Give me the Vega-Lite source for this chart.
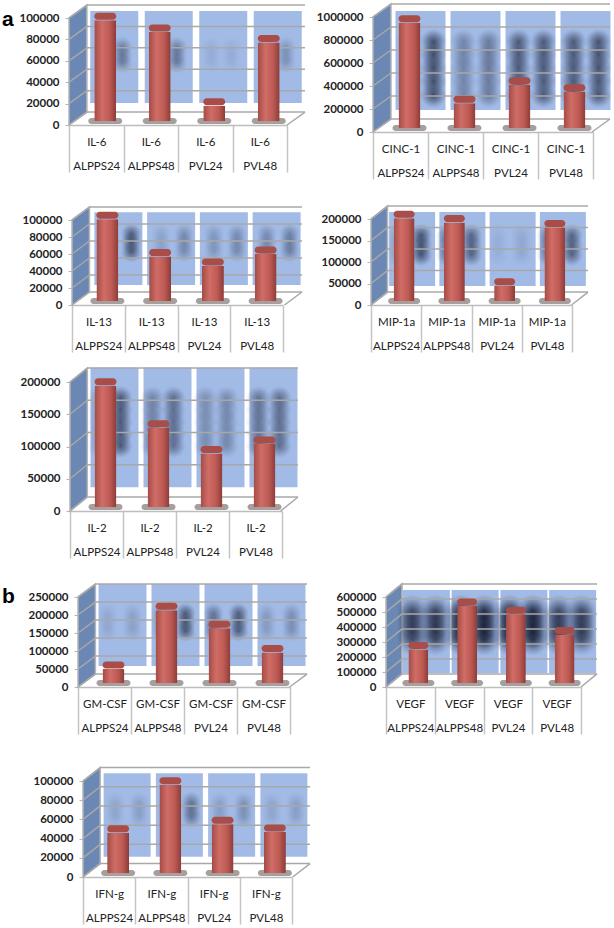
{"$schema":"https://vega.github.io/schema/vega-lite/v6.json","padding":0,"autosize":{"type":"pad"},"background":"white","spacing":0,"bounds":"flush","columns":2,
"config":{"view":{"stroke":null},
"axisX":{"labelAngle":0,"labelFont":"Lato","labelFontSize":11.5,"labelColor":"#222","labelLineHeight":24,"labelPadding":-36,"tickSize":47,"tickBand":"extent","tickColor":"#c4c4c4","tickWidth":1.5,"domainColor":"#bdbdbd","domainWidth":1.5,"labelOverlap":false,"labelBound":false,"labelFlush":false,"grid":false,"title":null},
"axisY":{"labelFont":"Lato","labelFontSize":11.5,"labelFontWeight":"bold","labelColor":"#222","tickSize":4,"tickColor":"#b5b5b5","labelPadding":6,"domain":false,"grid":false}},
"datasets":{
"p1":[{"label":"ALPPS24","value":98000,"l":0.1,"r":0.5,"pos":[73000,65500,58000]},{"label":"ALPPS48","value":87000,"l":0.05,"r":0.5,"pos":[73000,65500,58000]},{"label":"PVL24","value":18000,"l":0.1,"r":0.1,"pos":[73000,65500,58000]},{"label":"PVL48","value":77000,"l":0.2,"r":0.3,"pos":[73000,65500,58000]}],
"p2":[{"label":"ALPPS24","value":950000,"l":0.3,"r":1,"pos":[783000,670000,557000,440000,322000]},{"label":"ALPPS48","value":250000,"l":0.5,"r":0.6,"pos":[783000,670000,557000,440000,322000]},{"label":"PVL24","value":410000,"l":0.9,"r":0.9,"pos":[783000,670000,557000,440000,322000]},{"label":"PVL48","value":350000,"l":0.9,"r":0.95,"pos":[783000,670000,557000,440000,322000]}],
"p3":[{"label":"ALPPS24","value":101000,"l":0.2,"r":0.85,"pos":[83600,73000,62400]},{"label":"ALPPS48","value":57000,"l":0.2,"r":0.4,"pos":[83600,73000,62400]},{"label":"PVL24","value":46000,"l":0.3,"r":0.4,"pos":[83600,73000,62400]},{"label":"PVL48","value":60000,"l":0.4,"r":0.5,"pos":[83600,73000,62400]}],
"p4":[{"label":"ALPPS24","value":202000,"l":0.2,"r":0.9,"pos":[162500,139500,116500]},{"label":"ALPPS48","value":192000,"l":0.6,"r":0.75,"pos":[162500,139500,116500]},{"label":"PVL24","value":45000,"l":0.1,"r":0.15,"pos":[162500,139500,116500]},{"label":"PVL48","value":180000,"l":0.55,"r":0.75,"pos":[162500,139500,116500]}],
"p5":[{"label":"ALPPS24","value":194000,"l":0.3,"r":0.9,"pos":[175000,156500,138000,119500,101000]},{"label":"ALPPS48","value":129000,"l":0.5,"r":0.7,"pos":[175000,156500,138000,119500,101000]},{"label":"PVL24","value":89000,"l":0.4,"r":0.45,"pos":[175000,156500,138000,119500,101000]},{"label":"PVL48","value":104000,"l":0.65,"r":0.7,"pos":[175000,156500,138000,119500,101000]}],
"p6":[{"label":"ALPPS24","value":50000,"l":0.15,"r":0.2,"pos":[205000,180000,155000]},{"label":"ALPPS48","value":213000,"l":0.3,"r":0.85,"pos":[205000,180000,155000]},{"label":"PVL24","value":163000,"l":0.6,"r":0.8,"pos":[205000,180000,155000]},{"label":"PVL48","value":96000,"l":0.25,"r":0.35,"pos":[205000,180000,155000]}],
"p7":[{"label":"ALPPS24","value":250000,"l":0.75,"r":0.8,"pos":[513000,463000,413000,363000,313000]},{"label":"ALPPS48","value":540000,"l":1,"r":1,"pos":[513000,463000,413000,363000,313000]},{"label":"PVL24","value":485000,"l":1,"r":1,"pos":[513000,463000,413000,363000,313000]},{"label":"PVL48","value":350000,"l":0.75,"r":0.75,"pos":[513000,463000,413000,363000,313000]}],
"p8":[{"label":"ALPPS24","value":46000,"l":0.15,"r":0.2,"pos":[78300,70000,61700]},{"label":"ALPPS48","value":96000,"l":0.2,"r":0.55,"pos":[78300,70000,61700]},{"label":"PVL24","value":55000,"l":0.2,"r":0.3,"pos":[78300,70000,61700]},{"label":"PVL48","value":47000,"l":0.15,"r":0.2,"pos":[78300,70000,61700]}],
"w1":[{"x":0,"y":0,"y2":100000},{"x":0.076,"y":12100,"y2":112100}],
"w2":[{"x":0,"y":0,"y2":1000000},{"x":0.076,"y":113000,"y2":1113000}],
"w3":[{"x":0,"y":0,"y2":100000},{"x":0.076,"y":15300,"y2":115300}],
"w4":[{"x":0,"y":0,"y2":200000},{"x":0.076,"y":30000,"y2":230000}],
"w5":[{"x":0,"y":0,"y2":200000},{"x":0.076,"y":21700,"y2":221700}],
"w6":[{"x":0,"y":0,"y2":250000},{"x":0.076,"y":36000,"y2":286000}],
"w7":[{"x":0,"y":0,"y2":600000},{"x":0.076,"y":87000,"y2":687000}],
"w8":[{"x":0,"y":0,"y2":100000},{"x":0.076,"y":14000,"y2":114000}],
"g1":[{"t":0,"b":12100},{"t":20000,"b":32100},{"t":40000,"b":52100},{"t":60000,"b":72100},{"t":80000,"b":92100},{"t":100000,"b":112100}],
"g2":[{"t":0,"b":113000},{"t":200000,"b":313000},{"t":400000,"b":513000},{"t":600000,"b":713000},{"t":800000,"b":913000},{"t":1000000,"b":1113000}],
"g3":[{"t":0,"b":15300},{"t":20000,"b":35300},{"t":40000,"b":55300},{"t":60000,"b":75300},{"t":80000,"b":95300},{"t":100000,"b":115300}],
"g4":[{"t":0,"b":30000},{"t":50000,"b":80000},{"t":100000,"b":130000},{"t":150000,"b":180000},{"t":200000,"b":230000}],
"g5":[{"t":0,"b":21700},{"t":50000,"b":71700},{"t":100000,"b":121700},{"t":150000,"b":171700},{"t":200000,"b":221700}],
"g6":[{"t":0,"b":36000},{"t":50000,"b":86000},{"t":100000,"b":136000},{"t":150000,"b":186000},{"t":200000,"b":236000},{"t":250000,"b":286000}],
"g7":[{"t":0,"b":87000},{"t":100000,"b":187000},{"t":200000,"b":287000},{"t":300000,"b":387000},{"t":400000,"b":487000},{"t":500000,"b":587000},{"t":600000,"b":687000}],
"g8":[{"t":0,"b":14000},{"t":20000,"b":34000},{"t":40000,"b":54000},{"t":60000,"b":74000},{"t":80000,"b":94000},{"t":100000,"b":114000}]
},
"concat":[
{"width":320,"height":195,"resolve":{"scale":{"x":"independent"}},"layer":[
{"data":{"name":"w1"},"mark":{"type":"area","fill":"#6a88b3","stroke":"#b5b5b5","strokeWidth":1.5},"encoding":{"x":{"field":"x","type":"quantitative","axis":null,"scale":{"domain":[0,1],"range":[69,305],"nice":false}},"y":{"field":"y","type":"quantitative","scale":{"domain":[0,100000],"range":[125,18],"nice":false},"axis":{"title":null,"tickCount":12,"values":[0,20000,40000,60000,80000,100000],"labelOverlap":false,"offset":-69,"format":"d"}},"y2":{"field":"y2"}}},
{"data":{"name":"p1"},"encoding":{"x":{"field":"label","type":"nominal","axis":null,"scale":{"range":[69,287],"padding":0}}},"layer":[
{"mark":{"type":"bar","fill":"#a2bbe6","size":48,"xOffset":18},"encoding":{"y":{"datum":106500,"type":"quantitative"},"y2":{"datum":20500}}},
{"transform":[{"flatten":["pos"]}],"mark":{"type":"circle","fill":{"gradient":"radial","stops":[{"offset":0,"color":"rgba(0,0,15,0.6)"},{"offset":0.5,"color":"rgba(5,10,30,0.32)"},{"offset":1,"color":"rgba(40,60,110,0)"}]},"size":452,"xOffset":6},"encoding":{"y":{"field":"pos","type":"quantitative"},"opacity":{"field":"l","type":"quantitative","scale":null}}},
{"transform":[{"flatten":["pos"]}],"mark":{"type":"circle","fill":{"gradient":"radial","stops":[{"offset":0,"color":"rgba(0,0,15,0.6)"},{"offset":0.5,"color":"rgba(5,10,30,0.32)"},{"offset":1,"color":"rgba(40,60,110,0)"}]},"size":452,"xOffset":26},"encoding":{"y":{"field":"pos","type":"quantitative"},"opacity":{"field":"r","type":"quantitative","scale":null}}}]},
{"data":{"name":"g1"},"layer":[
{"mark":{"type":"rule","stroke":"#a8a8a8","strokeWidth":1.5},"encoding":{"x":{"datum":0.076,"type":"quantitative","axis":null,"scale":{"domain":[0,1],"range":[69,305],"nice":false}},"x2":{"datum":1},"y":{"field":"b","type":"quantitative"}}},
{"mark":{"type":"rule","stroke":"#a8a8a8","strokeWidth":1.5},"encoding":{"x":{"datum":0,"type":"quantitative","axis":null},"x2":{"datum":0.076},"y":{"field":"t","type":"quantitative"},"y2":{"field":"b"}}},
{"transform":[{"filter":"datum.t===0"}],"mark":{"type":"rule","stroke":"#a8a8a8","strokeWidth":1.5},"encoding":{"x":{"datum":0.924,"type":"quantitative","axis":null},"x2":{"datum":1},"y":{"field":"t","type":"quantitative"},"y2":{"field":"b"}}},
{"data":{"values":[{"tag":"a","x":-0.284,"y":98000}]},"mark":{"type":"text","font":"Liberation Sans","fontWeight":"bold","fontSize":21,"fill":"#000","align":"left","baseline":"middle"},"encoding":{"x":{"field":"x","type":"quantitative","axis":null},"y":{"field":"y","type":"quantitative"},"text":{"field":"tag"}}}]},
{"data":{"name":"p1"},"encoding":{"x":{"field":"label","type":"nominal","scale":{"range":[69,287],"padding":0},"axis":{"offset":-70,"labelExpr":"datum.label===''?'':['IL-6',datum.label]"}}},"layer":[
{"mark":{"type":"tick","color":"#8a7d7d","opacity":0.75,"cornerRadius":3,"thickness":6,"size":34,"xOffset":9,"yOffset":-4},"encoding":{"y":{"datum":0,"type":"quantitative"}}},
{"mark":{"type":"bar","fill":{"x1":0,"y1":0,"x2":1,"y2":0,"gradient":"linear","stops":[{"offset":0,"color":"#a44a46"},{"offset":0.35,"color":"#cf6d66"},{"offset":0.7,"color":"#bd5a54"},{"offset":1,"color":"#8c3b38"}]},"cornerRadiusBottomLeft":6,"cornerRadiusBottomRight":6,"size":22,"xOffset":9,"yOffset":-4,"y2Offset":-4},"encoding":{"y":{"field":"value","type":"quantitative"}}},
{"mark":{"type":"tick","color":"#a94d48","opacity":1,"cornerRadius":3.5,"thickness":7,"size":22,"xOffset":9,"yOffset":-4},"encoding":{"y":{"field":"value","type":"quantitative"}}}]}
]},
{"width":294,"height":195,"resolve":{"scale":{"x":"independent"}},"layer":[
{"data":{"name":"w2"},"mark":{"type":"area","fill":"#6a88b3","stroke":"#b5b5b5","strokeWidth":1.5},"encoding":{"x":{"field":"x","type":"quantitative","axis":null,"scale":{"domain":[0,1],"range":[53,290],"nice":false}},"y":{"field":"y","type":"quantitative","scale":{"domain":[0,1000000],"range":[132,17],"nice":false},"axis":{"title":null,"tickCount":12,"values":[0,200000,400000,600000,800000,1000000],"labelOverlap":false,"offset":-53,"format":"d"}},"y2":{"field":"y2"}}},
{"data":{"name":"p2"},"encoding":{"x":{"field":"label","type":"nominal","axis":null,"scale":{"range":[53,273],"padding":0}}},"layer":[
{"mark":{"type":"bar","fill":"#a2bbe6","size":50,"xOffset":20},"encoding":{"y":{"datum":1052000,"type":"quantitative"},"y2":{"datum":191000}}},
{"transform":[{"flatten":["pos"]}],"mark":{"type":"circle","fill":{"gradient":"radial","stops":[{"offset":0,"color":"rgba(0,0,15,0.6)"},{"offset":0.5,"color":"rgba(5,10,30,0.32)"},{"offset":1,"color":"rgba(40,60,110,0)"}]},"size":707,"xOffset":8},"encoding":{"y":{"field":"pos","type":"quantitative"},"opacity":{"field":"l","type":"quantitative","scale":null}}},
{"transform":[{"flatten":["pos"]}],"mark":{"type":"circle","fill":{"gradient":"radial","stops":[{"offset":0,"color":"rgba(0,0,15,0.6)"},{"offset":0.5,"color":"rgba(5,10,30,0.32)"},{"offset":1,"color":"rgba(40,60,110,0)"}]},"size":707,"xOffset":33},"encoding":{"y":{"field":"pos","type":"quantitative"},"opacity":{"field":"r","type":"quantitative","scale":null}}}]},
{"data":{"name":"g2"},"layer":[
{"mark":{"type":"rule","stroke":"#a8a8a8","strokeWidth":1.5},"encoding":{"x":{"datum":0.076,"type":"quantitative","axis":null,"scale":{"domain":[0,1],"range":[53,290],"nice":false}},"x2":{"datum":1},"y":{"field":"b","type":"quantitative"}}},
{"mark":{"type":"rule","stroke":"#a8a8a8","strokeWidth":1.5},"encoding":{"x":{"datum":0,"type":"quantitative","axis":null},"x2":{"datum":0.076},"y":{"field":"t","type":"quantitative"},"y2":{"field":"b"}}},
{"transform":[{"filter":"datum.t===0"}],"mark":{"type":"rule","stroke":"#a8a8a8","strokeWidth":1.5},"encoding":{"x":{"datum":0.924,"type":"quantitative","axis":null},"x2":{"datum":1},"y":{"field":"t","type":"quantitative"},"y2":{"field":"b"}}}]},
{"data":{"name":"p2"},"encoding":{"x":{"field":"label","type":"nominal","scale":{"range":[53,273],"padding":0},"axis":{"offset":-63,"labelExpr":"datum.label===''?'':['CINC-1',datum.label]"}}},"layer":[
{"mark":{"type":"tick","color":"#8a7d7d","opacity":0.75,"cornerRadius":3,"thickness":6,"size":34,"xOffset":9,"yOffset":-4},"encoding":{"y":{"datum":0,"type":"quantitative"}}},
{"mark":{"type":"bar","fill":{"x1":0,"y1":0,"x2":1,"y2":0,"gradient":"linear","stops":[{"offset":0,"color":"#a44a46"},{"offset":0.35,"color":"#cf6d66"},{"offset":0.7,"color":"#bd5a54"},{"offset":1,"color":"#8c3b38"}]},"cornerRadiusBottomLeft":6,"cornerRadiusBottomRight":6,"size":22,"xOffset":9,"yOffset":-4,"y2Offset":-4},"encoding":{"y":{"field":"value","type":"quantitative"}}},
{"mark":{"type":"tick","color":"#a94d48","opacity":1,"cornerRadius":3.5,"thickness":7,"size":22,"xOffset":9,"yOffset":-4},"encoding":{"y":{"field":"value","type":"quantitative"}}}]}
]},
{"width":320,"height":170,"resolve":{"scale":{"x":"independent"}},"layer":[
{"data":{"name":"w3"},"mark":{"type":"area","fill":"#6a88b3","stroke":"#b5b5b5","strokeWidth":1.5},"encoding":{"x":{"field":"x","type":"quantitative","axis":null,"scale":{"domain":[0,1],"range":[72,302],"nice":false}},"y":{"field":"y","type":"quantitative","scale":{"domain":[0,100000],"range":[110,25],"nice":false},"axis":{"title":null,"tickCount":12,"values":[0,20000,40000,60000,80000,100000],"labelOverlap":false,"offset":-72,"format":"d"}},"y2":{"field":"y2"}}},
{"data":{"name":"p3"},"encoding":{"x":{"field":"label","type":"nominal","axis":null,"scale":{"range":[72,283],"padding":0}}},"layer":[
{"mark":{"type":"bar","fill":"#a2bbe6","size":48,"xOffset":20},"encoding":{"y":{"datum":109000,"type":"quantitative"},"y2":{"datum":23500}}},
{"transform":[{"flatten":["pos"]}],"mark":{"type":"circle","fill":{"gradient":"radial","stops":[{"offset":0,"color":"rgba(0,0,15,0.6)"},{"offset":0.5,"color":"rgba(5,10,30,0.32)"},{"offset":1,"color":"rgba(40,60,110,0)"}]},"size":452,"xOffset":10},"encoding":{"y":{"field":"pos","type":"quantitative"},"opacity":{"field":"l","type":"quantitative","scale":null}}},
{"transform":[{"flatten":["pos"]}],"mark":{"type":"circle","fill":{"gradient":"radial","stops":[{"offset":0,"color":"rgba(0,0,15,0.6)"},{"offset":0.5,"color":"rgba(5,10,30,0.32)"},{"offset":1,"color":"rgba(40,60,110,0)"}]},"size":452,"xOffset":33},"encoding":{"y":{"field":"pos","type":"quantitative"},"opacity":{"field":"r","type":"quantitative","scale":null}}}]},
{"data":{"name":"g3"},"layer":[
{"mark":{"type":"rule","stroke":"#a8a8a8","strokeWidth":1.5},"encoding":{"x":{"datum":0.076,"type":"quantitative","axis":null,"scale":{"domain":[0,1],"range":[72,302],"nice":false}},"x2":{"datum":1},"y":{"field":"b","type":"quantitative"}}},
{"mark":{"type":"rule","stroke":"#a8a8a8","strokeWidth":1.5},"encoding":{"x":{"datum":0,"type":"quantitative","axis":null},"x2":{"datum":0.076},"y":{"field":"t","type":"quantitative"},"y2":{"field":"b"}}},
{"transform":[{"filter":"datum.t===0"}],"mark":{"type":"rule","stroke":"#a8a8a8","strokeWidth":1.5},"encoding":{"x":{"datum":0.924,"type":"quantitative","axis":null},"x2":{"datum":1},"y":{"field":"t","type":"quantitative"},"y2":{"field":"b"}}}]},
{"data":{"name":"p3"},"encoding":{"x":{"field":"label","type":"nominal","scale":{"range":[72,283],"padding":0},"axis":{"offset":-60,"labelExpr":"datum.label===''?'':['IL-13',datum.label]"}}},"layer":[
{"mark":{"type":"tick","color":"#8a7d7d","opacity":0.75,"cornerRadius":3,"thickness":6,"size":34,"xOffset":9,"yOffset":-4},"encoding":{"y":{"datum":0,"type":"quantitative"}}},
{"mark":{"type":"bar","fill":{"x1":0,"y1":0,"x2":1,"y2":0,"gradient":"linear","stops":[{"offset":0,"color":"#a44a46"},{"offset":0.35,"color":"#cf6d66"},{"offset":0.7,"color":"#bd5a54"},{"offset":1,"color":"#8c3b38"}]},"cornerRadiusBottomLeft":6,"cornerRadiusBottomRight":6,"size":22,"xOffset":9,"yOffset":-4,"y2Offset":-4},"encoding":{"y":{"field":"value","type":"quantitative"}}},
{"mark":{"type":"tick","color":"#a94d48","opacity":1,"cornerRadius":3.5,"thickness":7,"size":22,"xOffset":9,"yOffset":-4},"encoding":{"y":{"field":"value","type":"quantitative"}}}]}
]},
{"width":294,"height":170,"resolve":{"scale":{"x":"independent"}},"layer":[
{"data":{"name":"w4"},"mark":{"type":"area","fill":"#6a88b3","stroke":"#b5b5b5","strokeWidth":1.5},"encoding":{"x":{"field":"x","type":"quantitative","axis":null,"scale":{"domain":[0,1],"range":[51,268],"nice":false}},"y":{"field":"y","type":"quantitative","scale":{"domain":[0,200000],"range":[110,24],"nice":false},"axis":{"title":null,"tickCount":12,"values":[0,50000,100000,150000,200000],"labelOverlap":false,"offset":-51,"format":"d"}},"y2":{"field":"y2"}}},
{"data":{"name":"p4"},"encoding":{"x":{"field":"label","type":"nominal","axis":null,"scale":{"range":[51,252],"padding":0}}},"layer":[
{"mark":{"type":"bar","fill":"#a2bbe6","size":46,"xOffset":16},"encoding":{"y":{"datum":216000,"type":"quantitative"},"y2":{"datum":44000}}},
{"transform":[{"flatten":["pos"]}],"mark":{"type":"circle","fill":{"gradient":"radial","stops":[{"offset":0,"color":"rgba(0,0,15,0.6)"},{"offset":0.5,"color":"rgba(5,10,30,0.32)"},{"offset":1,"color":"rgba(40,60,110,0)"}]},"size":530,"xOffset":1},"encoding":{"y":{"field":"pos","type":"quantitative"},"opacity":{"field":"l","type":"quantitative","scale":null}}},
{"transform":[{"flatten":["pos"]}],"mark":{"type":"circle","fill":{"gradient":"radial","stops":[{"offset":0,"color":"rgba(0,0,15,0.6)"},{"offset":0.5,"color":"rgba(5,10,30,0.32)"},{"offset":1,"color":"rgba(40,60,110,0)"}]},"size":530,"xOffset":25},"encoding":{"y":{"field":"pos","type":"quantitative"},"opacity":{"field":"r","type":"quantitative","scale":null}}}]},
{"data":{"name":"g4"},"layer":[
{"mark":{"type":"rule","stroke":"#a8a8a8","strokeWidth":1.5},"encoding":{"x":{"datum":0.076,"type":"quantitative","axis":null,"scale":{"domain":[0,1],"range":[51,268],"nice":false}},"x2":{"datum":1},"y":{"field":"b","type":"quantitative"}}},
{"mark":{"type":"rule","stroke":"#a8a8a8","strokeWidth":1.5},"encoding":{"x":{"datum":0,"type":"quantitative","axis":null},"x2":{"datum":0.076},"y":{"field":"t","type":"quantitative"},"y2":{"field":"b"}}},
{"transform":[{"filter":"datum.t===0"}],"mark":{"type":"rule","stroke":"#a8a8a8","strokeWidth":1.5},"encoding":{"x":{"datum":0.924,"type":"quantitative","axis":null},"x2":{"datum":1},"y":{"field":"t","type":"quantitative"},"y2":{"field":"b"}}}]},
{"data":{"name":"p4"},"encoding":{"x":{"field":"label","type":"nominal","scale":{"range":[51,252],"padding":0},"axis":{"offset":-60,"labelExpr":"datum.label===''?'':['MIP-1a',datum.label]"}}},"layer":[
{"mark":{"type":"tick","color":"#8a7d7d","opacity":0.75,"cornerRadius":3,"thickness":6,"size":32,"xOffset":8,"yOffset":-4},"encoding":{"y":{"datum":0,"type":"quantitative"}}},
{"mark":{"type":"bar","fill":{"x1":0,"y1":0,"x2":1,"y2":0,"gradient":"linear","stops":[{"offset":0,"color":"#a44a46"},{"offset":0.35,"color":"#cf6d66"},{"offset":0.7,"color":"#bd5a54"},{"offset":1,"color":"#8c3b38"}]},"cornerRadiusBottomLeft":6,"cornerRadiusBottomRight":6,"size":21,"xOffset":8,"yOffset":-4,"y2Offset":-4},"encoding":{"y":{"field":"value","type":"quantitative"}}},
{"mark":{"type":"tick","color":"#a94d48","opacity":1,"cornerRadius":3.5,"thickness":7,"size":21,"xOffset":8,"yOffset":-4},"encoding":{"y":{"field":"value","type":"quantitative"}}}]}
]},
{"width":320,"height":205,"resolve":{"scale":{"x":"independent"}},"layer":[
{"data":{"name":"w5"},"mark":{"type":"area","fill":"#6a88b3","stroke":"#b5b5b5","strokeWidth":1.5},"encoding":{"x":{"field":"x","type":"quantitative","axis":null,"scale":{"domain":[0,1],"range":[70,298],"nice":false}},"y":{"field":"y","type":"quantitative","scale":{"domain":[0,200000],"range":[146,17],"nice":false},"axis":{"title":null,"tickCount":12,"values":[0,50000,100000,150000,200000],"labelOverlap":false,"offset":-70,"format":"d"}},"y2":{"field":"y2"}}},
{"data":{"name":"p5"},"encoding":{"x":{"field":"label","type":"nominal","axis":null,"scale":{"range":[70,282],"padding":0}}},"layer":[
{"mark":{"type":"bar","fill":"#a2bbe6","size":48,"xOffset":18},"encoding":{"y":{"datum":222000,"type":"quantitative"},"y2":{"datum":37000}}},
{"transform":[{"flatten":["pos"]}],"mark":{"type":"circle","fill":{"gradient":"radial","stops":[{"offset":0,"color":"rgba(0,0,15,0.6)"},{"offset":0.5,"color":"rgba(5,10,30,0.32)"},{"offset":1,"color":"rgba(40,60,110,0)"}]},"size":615,"xOffset":3},"encoding":{"y":{"field":"pos","type":"quantitative"},"opacity":{"field":"l","type":"quantitative","scale":null}}},
{"transform":[{"flatten":["pos"]}],"mark":{"type":"circle","fill":{"gradient":"radial","stops":[{"offset":0,"color":"rgba(0,0,15,0.6)"},{"offset":0.5,"color":"rgba(5,10,30,0.32)"},{"offset":1,"color":"rgba(40,60,110,0)"}]},"size":615,"xOffset":24},"encoding":{"y":{"field":"pos","type":"quantitative"},"opacity":{"field":"r","type":"quantitative","scale":null}}}]},
{"data":{"name":"g5"},"layer":[
{"mark":{"type":"rule","stroke":"#a8a8a8","strokeWidth":1.5},"encoding":{"x":{"datum":0.076,"type":"quantitative","axis":null,"scale":{"domain":[0,1],"range":[70,298],"nice":false}},"x2":{"datum":1},"y":{"field":"b","type":"quantitative"}}},
{"mark":{"type":"rule","stroke":"#a8a8a8","strokeWidth":1.5},"encoding":{"x":{"datum":0,"type":"quantitative","axis":null},"x2":{"datum":0.076},"y":{"field":"t","type":"quantitative"},"y2":{"field":"b"}}},
{"transform":[{"filter":"datum.t===0"}],"mark":{"type":"rule","stroke":"#a8a8a8","strokeWidth":1.5},"encoding":{"x":{"datum":0.924,"type":"quantitative","axis":null},"x2":{"datum":1},"y":{"field":"t","type":"quantitative"},"y2":{"field":"b"}}}]},
{"data":{"name":"p5"},"encoding":{"x":{"field":"label","type":"nominal","scale":{"range":[70,282],"padding":0},"axis":{"offset":-59,"labelExpr":"datum.label===''?'':['IL-2',datum.label]"}}},"layer":[
{"mark":{"type":"tick","color":"#8a7d7d","opacity":0.75,"cornerRadius":3,"thickness":6,"size":34,"xOffset":9,"yOffset":-4},"encoding":{"y":{"datum":0,"type":"quantitative"}}},
{"mark":{"type":"bar","fill":{"x1":0,"y1":0,"x2":1,"y2":0,"gradient":"linear","stops":[{"offset":0,"color":"#a44a46"},{"offset":0.35,"color":"#cf6d66"},{"offset":0.7,"color":"#bd5a54"},{"offset":1,"color":"#8c3b38"}]},"cornerRadiusBottomLeft":6,"cornerRadiusBottomRight":6,"size":22,"xOffset":9,"yOffset":-4,"y2Offset":-4},"encoding":{"y":{"field":"value","type":"quantitative"}}},
{"mark":{"type":"tick","color":"#a94d48","opacity":1,"cornerRadius":3.5,"thickness":7,"size":22,"xOffset":9,"yOffset":-4},"encoding":{"y":{"field":"value","type":"quantitative"}}}]}
]},
{"width":294,"height":205,"data":{"values":[{"none":1}]},"mark":{"type":"point","opacity":0},"encoding":{}},
{"width":320,"height":180,"resolve":{"scale":{"x":"independent"}},"layer":[
{"data":{"name":"w6"},"mark":{"type":"area","fill":"#6a88b3","stroke":"#b5b5b5","strokeWidth":1.5},"encoding":{"x":{"field":"x","type":"quantitative","axis":null,"scale":{"domain":[0,1],"range":[78,307],"nice":false}},"y":{"field":"y","type":"quantitative","scale":{"domain":[0,250000],"range":[117,27],"nice":false},"axis":{"title":null,"tickCount":12,"values":[0,50000,100000,150000,200000,250000],"labelOverlap":false,"offset":-78,"format":"d"}},"y2":{"field":"y2"}}},
{"data":{"name":"p6"},"encoding":{"x":{"field":"label","type":"nominal","axis":null,"scale":{"range":[78,290],"padding":0}}},"layer":[
{"mark":{"type":"bar","fill":"#a2bbe6","size":48,"xOffset":18},"encoding":{"y":{"datum":286000,"type":"quantitative"},"y2":{"datum":58000}}},
{"transform":[{"flatten":["pos"]}],"mark":{"type":"circle","fill":{"gradient":"radial","stops":[{"offset":0,"color":"rgba(0,0,15,0.6)"},{"offset":0.5,"color":"rgba(5,10,30,0.32)"},{"offset":1,"color":"rgba(40,60,110,0)"}]},"size":452,"xOffset":3},"encoding":{"y":{"field":"pos","type":"quantitative"},"opacity":{"field":"l","type":"quantitative","scale":null}}},
{"transform":[{"flatten":["pos"]}],"mark":{"type":"circle","fill":{"gradient":"radial","stops":[{"offset":0,"color":"rgba(0,0,15,0.6)"},{"offset":0.5,"color":"rgba(5,10,30,0.32)"},{"offset":1,"color":"rgba(40,60,110,0)"}]},"size":452,"xOffset":28},"encoding":{"y":{"field":"pos","type":"quantitative"},"opacity":{"field":"r","type":"quantitative","scale":null}}}]},
{"data":{"name":"g6"},"layer":[
{"mark":{"type":"rule","stroke":"#a8a8a8","strokeWidth":1.5},"encoding":{"x":{"datum":0.076,"type":"quantitative","axis":null,"scale":{"domain":[0,1],"range":[78,307],"nice":false}},"x2":{"datum":1},"y":{"field":"b","type":"quantitative"}}},
{"mark":{"type":"rule","stroke":"#a8a8a8","strokeWidth":1.5},"encoding":{"x":{"datum":0,"type":"quantitative","axis":null},"x2":{"datum":0.076},"y":{"field":"t","type":"quantitative"},"y2":{"field":"b"}}},
{"transform":[{"filter":"datum.t===0"}],"mark":{"type":"rule","stroke":"#a8a8a8","strokeWidth":1.5},"encoding":{"x":{"datum":0.924,"type":"quantitative","axis":null},"x2":{"datum":1},"y":{"field":"t","type":"quantitative"},"y2":{"field":"b"}}},
{"data":{"values":[{"tag":"b","x":-0.332,"y":250000}]},"mark":{"type":"text","font":"Liberation Sans","fontWeight":"bold","fontSize":21,"fill":"#000","align":"left","baseline":"middle"},"encoding":{"x":{"field":"x","type":"quantitative","axis":null},"y":{"field":"y","type":"quantitative"},"text":{"field":"tag"}}}]},
{"data":{"name":"p6"},"encoding":{"x":{"field":"label","type":"nominal","scale":{"range":[78,290],"padding":0},"axis":{"offset":-63,"labelExpr":"datum.label===''?'':['GM-CSF',datum.label]"}}},"layer":[
{"mark":{"type":"tick","color":"#8a7d7d","opacity":0.75,"cornerRadius":3,"thickness":6,"size":34,"xOffset":9,"yOffset":-4},"encoding":{"y":{"datum":0,"type":"quantitative"}}},
{"mark":{"type":"bar","fill":{"x1":0,"y1":0,"x2":1,"y2":0,"gradient":"linear","stops":[{"offset":0,"color":"#a44a46"},{"offset":0.35,"color":"#cf6d66"},{"offset":0.7,"color":"#bd5a54"},{"offset":1,"color":"#8c3b38"}]},"cornerRadiusBottomLeft":6,"cornerRadiusBottomRight":6,"size":22,"xOffset":9,"yOffset":-4,"y2Offset":-4},"encoding":{"y":{"field":"value","type":"quantitative"}}},
{"mark":{"type":"tick","color":"#a94d48","opacity":1,"cornerRadius":3.5,"thickness":7,"size":22,"xOffset":9,"yOffset":-4},"encoding":{"y":{"field":"value","type":"quantitative"}}}]}
]},
{"width":294,"height":180,"resolve":{"scale":{"x":"independent"}},"layer":[
{"data":{"name":"w7"},"mark":{"type":"area","fill":"#6a88b3","stroke":"#b5b5b5","strokeWidth":1.5},"encoding":{"x":{"field":"x","type":"quantitative","axis":null,"scale":{"domain":[0,1],"range":[66,277],"nice":false}},"y":{"field":"y","type":"quantitative","scale":{"domain":[0,600000],"range":[117,27],"nice":false},"axis":{"title":null,"tickCount":12,"values":[0,100000,200000,300000,400000,500000,600000],"labelOverlap":false,"offset":-66,"format":"d"}},"y2":{"field":"y2"}}},
{"data":{"name":"p7"},"encoding":{"x":{"field":"label","type":"nominal","axis":null,"scale":{"range":[66,261],"padding":0}}},"layer":[
{"mark":{"type":"bar","fill":"#a2bbe6","size":47,"xOffset":16},"encoding":{"y":{"datum":647000,"type":"quantitative"},"y2":{"datum":93000}}},
{"transform":[{"flatten":["pos"]}],"mark":{"type":"circle","fill":{"gradient":"radial","stops":[{"offset":0,"color":"rgba(0,0,15,0.6)"},{"offset":0.5,"color":"rgba(5,10,30,0.32)"},{"offset":1,"color":"rgba(40,60,110,0)"}]},"size":1000,"xOffset":2},"encoding":{"y":{"field":"pos","type":"quantitative"},"opacity":{"field":"l","type":"quantitative","scale":null}}},
{"transform":[{"flatten":["pos"]}],"mark":{"type":"circle","fill":{"gradient":"radial","stops":[{"offset":0,"color":"rgba(0,0,15,0.6)"},{"offset":0.5,"color":"rgba(5,10,30,0.32)"},{"offset":1,"color":"rgba(40,60,110,0)"}]},"size":1000,"xOffset":25},"encoding":{"y":{"field":"pos","type":"quantitative"},"opacity":{"field":"r","type":"quantitative","scale":null}}}]},
{"data":{"name":"g7"},"layer":[
{"mark":{"type":"rule","stroke":"#a8a8a8","strokeWidth":1.5},"encoding":{"x":{"datum":0.076,"type":"quantitative","axis":null,"scale":{"domain":[0,1],"range":[66,277],"nice":false}},"x2":{"datum":1},"y":{"field":"b","type":"quantitative"}}},
{"mark":{"type":"rule","stroke":"#a8a8a8","strokeWidth":1.5},"encoding":{"x":{"datum":0,"type":"quantitative","axis":null},"x2":{"datum":0.076},"y":{"field":"t","type":"quantitative"},"y2":{"field":"b"}}},
{"transform":[{"filter":"datum.t===0"}],"mark":{"type":"rule","stroke":"#a8a8a8","strokeWidth":1.5},"encoding":{"x":{"datum":0.924,"type":"quantitative","axis":null},"x2":{"datum":1},"y":{"field":"t","type":"quantitative"},"y2":{"field":"b"}}}]},
{"data":{"name":"p7"},"encoding":{"x":{"field":"label","type":"nominal","scale":{"range":[66,261],"padding":0},"axis":{"offset":-63,"labelExpr":"datum.label===''?'':['VEGF',datum.label]"}}},"layer":[
{"mark":{"type":"tick","color":"#8a7d7d","opacity":0.75,"cornerRadius":3,"thickness":6,"size":32,"xOffset":8,"yOffset":-4},"encoding":{"y":{"datum":0,"type":"quantitative"}}},
{"mark":{"type":"bar","fill":{"x1":0,"y1":0,"x2":1,"y2":0,"gradient":"linear","stops":[{"offset":0,"color":"#a44a46"},{"offset":0.35,"color":"#cf6d66"},{"offset":0.7,"color":"#bd5a54"},{"offset":1,"color":"#8c3b38"}]},"cornerRadiusBottomLeft":6,"cornerRadiusBottomRight":6,"size":20,"xOffset":8,"yOffset":-4,"y2Offset":-4},"encoding":{"y":{"field":"value","type":"quantitative"}}},
{"mark":{"type":"tick","color":"#a94d48","opacity":1,"cornerRadius":3.5,"thickness":7,"size":20,"xOffset":8,"yOffset":-4},"encoding":{"y":{"field":"value","type":"quantitative"}}}]}
]},
{"width":320,"height":178,"resolve":{"scale":{"x":"independent"}},"layer":[
{"data":{"name":"w8"},"mark":{"type":"area","fill":"#6a88b3","stroke":"#b5b5b5","strokeWidth":1.5},"encoding":{"x":{"field":"x","type":"quantitative","axis":null,"scale":{"domain":[0,1],"range":[83,310],"nice":false}},"y":{"field":"y","type":"quantitative","scale":{"domain":[0,100000],"range":[127,31],"nice":false},"axis":{"title":null,"tickCount":12,"values":[0,20000,40000,60000,80000,100000],"labelOverlap":false,"offset":-83,"format":"d"}},"y2":{"field":"y2"}}},
{"data":{"name":"p8"},"encoding":{"x":{"field":"label","type":"nominal","axis":null,"scale":{"range":[83,292],"padding":0}}},"layer":[
{"mark":{"type":"bar","fill":"#a2bbe6","size":47,"xOffset":18},"encoding":{"y":{"datum":108000,"type":"quantitative"},"y2":{"datum":21000}}},
{"transform":[{"flatten":["pos"]}],"mark":{"type":"circle","fill":{"gradient":"radial","stops":[{"offset":0,"color":"rgba(0,0,15,0.6)"},{"offset":0.5,"color":"rgba(5,10,30,0.32)"},{"offset":1,"color":"rgba(40,60,110,0)"}]},"size":452,"xOffset":6},"encoding":{"y":{"field":"pos","type":"quantitative"},"opacity":{"field":"l","type":"quantitative","scale":null}}},
{"transform":[{"flatten":["pos"]}],"mark":{"type":"circle","fill":{"gradient":"radial","stops":[{"offset":0,"color":"rgba(0,0,15,0.6)"},{"offset":0.5,"color":"rgba(5,10,30,0.32)"},{"offset":1,"color":"rgba(40,60,110,0)"}]},"size":452,"xOffset":30},"encoding":{"y":{"field":"pos","type":"quantitative"},"opacity":{"field":"r","type":"quantitative","scale":null}}}]},
{"data":{"name":"g8"},"layer":[
{"mark":{"type":"rule","stroke":"#a8a8a8","strokeWidth":1.5},"encoding":{"x":{"datum":0.076,"type":"quantitative","axis":null,"scale":{"domain":[0,1],"range":[83,310],"nice":false}},"x2":{"datum":1},"y":{"field":"b","type":"quantitative"}}},
{"mark":{"type":"rule","stroke":"#a8a8a8","strokeWidth":1.5},"encoding":{"x":{"datum":0,"type":"quantitative","axis":null},"x2":{"datum":0.076},"y":{"field":"t","type":"quantitative"},"y2":{"field":"b"}}},
{"transform":[{"filter":"datum.t===0"}],"mark":{"type":"rule","stroke":"#a8a8a8","strokeWidth":1.5},"encoding":{"x":{"datum":0.924,"type":"quantitative","axis":null},"x2":{"datum":1},"y":{"field":"t","type":"quantitative"},"y2":{"field":"b"}}}]},
{"data":{"name":"p8"},"encoding":{"x":{"field":"label","type":"nominal","scale":{"range":[83,292],"padding":0},"axis":{"offset":-51,"labelExpr":"datum.label===''?'':['IFN-g',datum.label]"}}},"layer":[
{"mark":{"type":"tick","color":"#8a7d7d","opacity":0.75,"cornerRadius":3,"thickness":6,"size":34,"xOffset":9,"yOffset":-4},"encoding":{"y":{"datum":0,"type":"quantitative"}}},
{"mark":{"type":"bar","fill":{"x1":0,"y1":0,"x2":1,"y2":0,"gradient":"linear","stops":[{"offset":0,"color":"#a44a46"},{"offset":0.35,"color":"#cf6d66"},{"offset":0.7,"color":"#bd5a54"},{"offset":1,"color":"#8c3b38"}]},"cornerRadiusBottomLeft":6,"cornerRadiusBottomRight":6,"size":22,"xOffset":9,"yOffset":-4,"y2Offset":-4},"encoding":{"y":{"field":"value","type":"quantitative"}}},
{"mark":{"type":"tick","color":"#a94d48","opacity":1,"cornerRadius":3.5,"thickness":7,"size":22,"xOffset":9,"yOffset":-4},"encoding":{"y":{"field":"value","type":"quantitative"}}}]}
]}
]}
